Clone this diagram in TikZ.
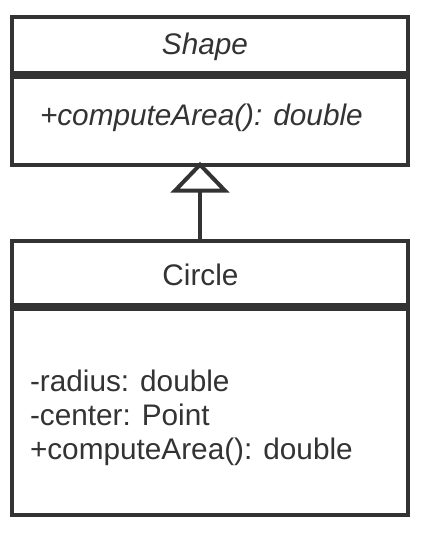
\documentclass[tikz,border=0pt]{standalone}
\usepackage{fontspec}
\setmainfont{Liberation Sans}
\definecolor{ink}{HTML}{333333}
\begin{document}
\begin{tikzpicture}[x=1pt,y=-1pt,
  box/.style={draw=ink,line width=4pt,fill=white,inner sep=0pt,outer sep=0pt,minimum width=396pt,anchor=north west},
  divider/.style={draw=ink,line width=8pt},
  conn/.style={draw=ink,line width=4pt},
  tri/.style={draw=ink,line width=4pt,fill=white,line join=miter},
  txt/.style={text=ink,inner sep=0pt,outer sep=0pt,font=\fontsize{29.75}{33.8}\selectfont}]
\useasboundingbox (0,0) rectangle (432,540);
% class Shape
\node[box,minimum height=147.7pt] (shape) at (12,17) {};
\draw[divider] ([yshift=-58pt]shape.north west) -- ([yshift=-58pt]shape.north east);
\node[txt,anchor=base] (shapename) at (205,55) {\itshape Shape};
\node[txt,anchor=base west] (shapeop) at (40,126) {\itshape +computeArea(): double};
% class Circle
\node[box,minimum height=273.7pt] (circle) at (12,241) {};
\draw[divider] ([yshift=-66pt]circle.north west) -- ([yshift=-66pt]circle.north east);
\node[txt,anchor=base] (circlename) at (200.5,285) {Circle};
\node[txt,anchor=base west] (attr1) at (30,391.7) {-radius: double};
\node[txt,anchor=base west] (attr2) at (30,425.5) {-center: Point};
\node[txt,anchor=base west] (attr3) at (30,459.3) {+computeArea(): double};
% generalization
\draw[conn] ([xshift=-10pt]circle.north) -- ([xshift=-10pt,yshift=-26pt]shape.south);
\draw[tri] ([xshift=-10pt]shape.south) -- ++(-25,26) -- ++(50,0) -- cycle;
\end{tikzpicture}
\end{document}
